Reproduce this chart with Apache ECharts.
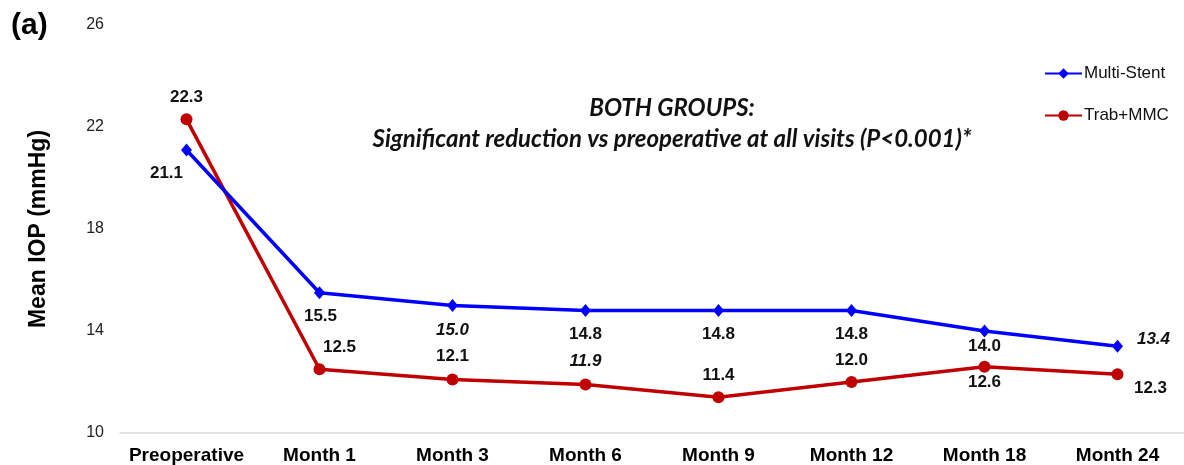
<!DOCTYPE html>
<html lang="en">
<head>
    <meta charset="UTF-8">
    <title>Mean IOP</title>
    <script src="https://cdn.jsdelivr.net/npm/echarts@6/dist/echarts.min.js" charset="utf-8"></script>
    <style>
        html, body {margin: 0; padding: 0; background: #fff;}
        #main {width: 1184px; height: 465px;}
    </style>
</head>
<body>
<div id="main"></div>
<script>
    var visits = ['Preoperative', 'Month 1', 'Month 3', 'Month 6', 'Month 9', 'Month 12', 'Month 18', 'Month 24'];
    var multiStent = [21.1, 15.5, 15.0, 14.8, 14.8, 14.8, 14.0, 13.4];
    var trabMmc = [22.3, 12.5, 12.1, 11.9, 11.4, 12.0, 12.6, 12.3];
    var yTicks = [10, 14, 18, 22, 26];

    // label placement (px offsets from the point) and which labels are italic
    var stentOffset = [[-20, 23], [1, 24], [0, 25], [0, 24], [0, 24], [0, 24], [0, 15], [36, -7]];
    var trabOffset = [[0, -22], [20, -22], [0, -23], [0, -23], [0, -22], [0, -22], [0, 16], [33, 14]];
    var stentItalic = [2, 7];
    var trabItalic = [3];

    function buildData(values, offsets, italic) {
        return values.map(function (v, i) {
            return {
                value: v,
                label: {
                    offset: offsets[i],
                    fontStyle: italic.indexOf(i) >= 0 ? 'italic' : 'normal'
                }
            };
        });
    }

    var labelStyle = {
        show: true,
        position: 'inside',
        align: 'center',
        verticalAlign: 'middle',
        fontFamily: 'Liberation Sans, Arial, sans-serif',
        fontWeight: 'bold',
        fontSize: 17,
        color: '#111',
        formatter: function (p) { return p.value.toFixed(1); }
    };

    var myChart = echarts.init(document.getElementById('main'));
    var option = {
        animation: false,
        textStyle: {fontFamily: 'Liberation Sans, Arial, sans-serif'},
        grid: {
            left: 120,
            top: 25,
            width: 1078,
            bottom: 31
        },
        graphic: [{
            type: 'text',
            x: 11,
            y: 11,
            style: {text: '(a)', fontSize: 30, fontWeight: 'bold', fill: '#000', fontFamily: 'Liberation Sans, Arial, sans-serif'}
        }, {
            type: 'text',
            x: 672,
            y: 93,
            style: {
                text: 'BOTH GROUPS:\nSignificant reduction vs preoperative at all visits (P<0.001)*',
                align: 'center',
                verticalAlign: 'top',
                fontSize: 24,
                lineHeight: 31,
                fontStyle: 'italic',
                fontWeight: 'bold',
                fontFamily: 'Lato, sans-serif',
                fill: '#111'
            }
        }],
        legend: {
            orient: 'vertical',
            left: 1039,
            top: 60,
            itemWidth: 37,
            itemHeight: 13,
            itemGap: 25,
            textStyle: {fontSize: 17, color: '#111', padding: [0, 0, 0, -3]},
            data: ['Multi-Stent', 'Trab+MMC']
        },
        xAxis: {
            type: 'category',
            data: visits,
            boundaryGap: true,
            axisLine: {lineStyle: {color: '#d9d9d9', width: 1.5}},
            axisTick: {show: false},
            axisLabel: {fontSize: 19, fontWeight: 'bold', color: '#000', margin: 13, interval: 0}
        },
        yAxis: {
            type: 'value',
            min: yTicks[0],
            max: yTicks[yTicks.length - 1],
            interval: 4,
            name: 'Mean IOP (mmHg)',
            nameLocation: 'middle',
            nameRotate: 90,
            nameGap: 70,
            nameTextStyle: {fontSize: 23, fontWeight: 'bold', color: '#000'},
            axisLine: {show: false},
            axisTick: {show: false},
            splitLine: {show: false},
            axisLabel: {fontSize: 16, color: '#222', margin: 16}
        },
        series: [{
            name: 'Multi-Stent',
            type: 'line',
            data: buildData(multiStent, stentOffset, stentItalic),
            symbol: 'diamond',
            symbolSize: [11, 13],
            color: '#0000ff',
            lineStyle: {width: 3.5, color: '#0000ff'},
            itemStyle: {color: '#0000ff'},
            label: labelStyle,
            z: 3
        }, {
            name: 'Trab+MMC',
            type: 'line',
            data: buildData(trabMmc, trabOffset, trabItalic),
            symbol: 'circle',
            symbolSize: 12,
            color: '#c00000',
            lineStyle: {width: 3.5, color: '#c00000'},
            itemStyle: {color: '#c00000'},
            label: labelStyle,
            z: 2
        }]
    };

    myChart.setOption(option);
    window.addEventListener("resize", function () {
        myChart.resize();
    });
</script>
</body>
</html>
